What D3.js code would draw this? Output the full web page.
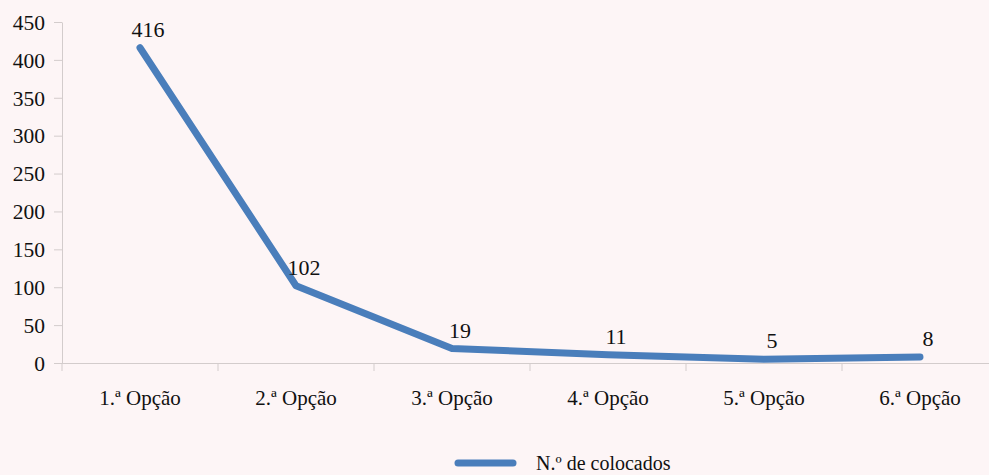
<!DOCTYPE html>
<html>
<head>
<meta charset="utf-8">
<script src="https://cdn.jsdelivr.net/npm/d3@7"></script>
<style>
  html, body { margin: 0; padding: 0; background: #fdf5f6; }
  .axis path, .axis line { stroke: #d3cccc; }
</style>
</head>
<body>
<div id="chart"></div>
<script>
const categorias = ["1.ª Opção", "2.ª Opção", "3.ª Opção", "4.ª Opção", "5.ª Opção", "6.ª Opção"];
const colocados = [416, 102, 19, 11, 5, 8];
const yTicks = [0, 50, 100, 150, 200, 250, 300, 350, 400, 450];
const serieNome = "N.º de colocados";

const width = 989, height = 475;
const margin = { top: 22, left: 62, bottom: 112 };
const bandW = 156;
const fonte = "'Liberation Serif', 'Times New Roman', Times, serif";

const data = categorias.map((c, i) => ({ cat: c, v: colocados[i] }));

const svg = d3.select("#chart").append("svg")
    .attr("width", width)
    .attr("height", height)
    .style("display", "block");

const x = d3.scaleBand()
    .domain(categorias)
    .range([margin.left, margin.left + bandW * categorias.length])
    .padding(0);

const y = d3.scaleLinear()
    .domain([0, 450])
    .range([height - margin.bottom, margin.top]);

// y axis
const yg = svg.append("g")
    .attr("class", "axis")
    .attr("transform", `translate(${margin.left},0)`)
    .call(d3.axisLeft(y).tickValues(yTicks).tickSize(8).tickSizeOuter(0).tickPadding(9));
yg.attr("font-family", fonte).attr("font-size", 21.5);
yg.selectAll("text").attr("dy", "0.34em").attr("fill", "#111");

// x axis (labels only, ticks at band edges)
const xg = svg.append("g")
    .attr("class", "axis")
    .attr("transform", `translate(0,${y(0)})`)
    .call(d3.axisBottom(x).tickSize(0).tickPadding(30).tickSizeOuter(0));
xg.attr("font-family", fonte).attr("font-size", 21);
xg.select(".domain").attr("d", `M${margin.left},0.5H${width}`);
xg.selectAll("text").attr("dy", "0.55em").attr("fill", "#111");

const edges = d3.range(categorias.length + 1).map(i => margin.left + i * x.step());
xg.selectAll("line.edge")
    .data(edges)
    .join("line")
    .attr("class", "edge")
    .attr("x1", d => d).attr("x2", d => d)
    .attr("y1", 0).attr("y2", 8)
    .attr("stroke", "#d3cccc");

// line
const line = d3.line()
    .x(d => x(d.cat) + x.bandwidth() / 2)
    .y(d => y(d.v));

svg.append("path")
    .datum(data)
    .attr("fill", "none")
    .attr("stroke", "#4a7ebb")
    .attr("stroke-width", 7)
    .attr("stroke-linejoin", "round")
    .attr("stroke-linecap", "round")
    .attr("d", line);

// data labels
svg.selectAll("text.lbl")
    .data(data)
    .join("text")
    .attr("class", "lbl")
    .attr("x", d => x(d.cat) + x.bandwidth() / 2 + 8)
    .attr("y", d => y(d.v) - 11)
    .attr("text-anchor", "middle")
    .attr("font-family", fonte)
    .attr("font-size", 22)
    .attr("fill", "#111")
    .text(d => d.v);

// legend
const lg = svg.append("g").attr("transform", `translate(455, 463)`);
lg.append("line")
    .attr("x1", 3).attr("x2", 58)
    .attr("y1", 0).attr("y2", 0)
    .attr("stroke", "#4a7ebb")
    .attr("stroke-width", 7)
    .attr("stroke-linecap", "round");
lg.append("text")
    .attr("x", 81).attr("y", 7)
    .attr("font-family", fonte)
    .attr("font-size", 20)
    .attr("fill", "#111")
    .text(serieNome);
</script>
</body>
</html>
